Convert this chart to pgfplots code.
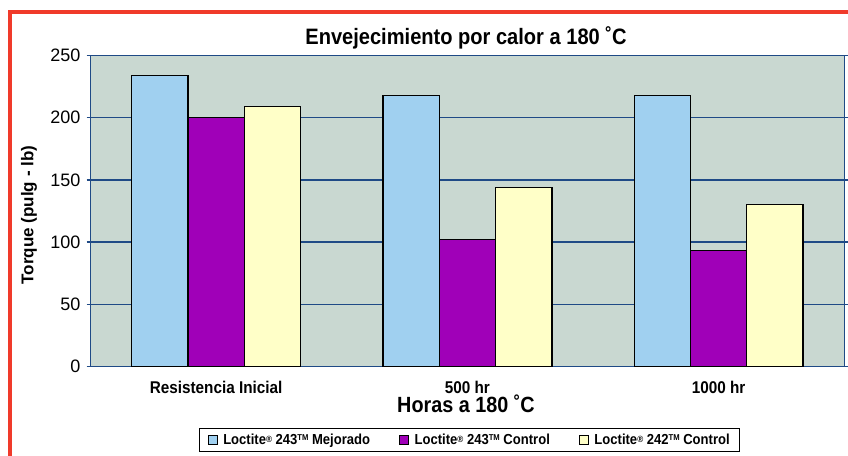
\documentclass[border=0pt]{standalone}
\usepackage{pgfplots}
\pgfplotsset{compat=1.18}
\usepackage{fontspec}
\setmainfont{Liberation Sans}
\newfontfamily\cond{Liberation Sans}[FakeStretch=0.9]
\definecolor{bgc}{HTML}{C9D8D1}
\definecolor{gridc}{HTML}{1F4A86}
\definecolor{cblue}{HTML}{A0D0F0}
\definecolor{cpurple}{HTML}{A000B8}
\definecolor{cyellow}{HTML}{FFFFC8}
\definecolor{cred}{HTML}{F03A2A}
\newcommand{\sreg}{\raisebox{0.3ex}{\fontsize{9}{9}\selectfont ®}}
\newcommand{\stm}{\raisebox{0.45ex}{\fontsize{8.5}{8.5}\selectfont TM}}
\begin{document}
\begin{tikzpicture}[x=1pt,y=1pt]
\path[use as bounding box, fill=white] (0pt,0pt) rectangle (848pt,455pt);
\draw[cred, line width=4pt] (10pt,-5pt) -- (10pt,443pt) -- (853pt,443pt);
\begin{axis}[
  at={(90.5pt,88.5pt)}, anchor=south west,
  scale only axis, width=753.8pt, height=311pt,
  xmin=-0.5, xmax=2.5, ymin=0, ymax=250,
  axis background/.style={fill=bgc},
  axis line style={gridc, line width=1.4pt},
  ybar=0pt, bar width=56.3pt,
  xtick={0,1,2},
  xticklabels={Resistencia Inicial,500 hr,1000 hr},
  x tick label style={font=\cond\bfseries\fontsize{17}{17}\selectfont, text height=12.3pt, text depth=0pt, inner sep=0pt, anchor=north, yshift=-10pt},
  major x tick style={draw=none},
  extra x ticks={0.5,1.5},
  extra x tick labels={},
  extra x tick style={major tick length=6pt, tick align=outside, tick style={black, line width=1.2pt}, grid=none},
  ytick={0,50,100,150,200,250},
  ymajorgrids, grid style={gridc, line width=1.4pt},
  y tick style={gridc, line width=1.4pt},
  major tick length=4pt, tick align=outside,
  yticklabel style={font=\fontsize{18}{18}\selectfont, inner sep=0pt, anchor=east, xshift=-6pt},
  /pgf/number format/assume math mode=true,
  legend columns=3,
  legend style={at={(rel axis cs:0.503,-0.236)}, anchor=center, draw=black, line width=1pt,
    font=\cond\bfseries\fontsize{14.5}{14.5}\selectfont, inner xsep=8pt, inner ysep=3.5pt,
    /tikz/every odd column/.append style={column sep=4pt},
    /tikz/every even column/.append style={column sep=27pt}},
  legend image code/.code={\draw[#1, draw=black, line width=0.6pt] (0pt,-4.5pt) rectangle (9pt,4.5pt);},
  clip=false,
]
\addplot[fill=cblue, draw=black, line width=1.3pt] coordinates {(0,234) (1,218) (2,218)};
\addplot[fill=cpurple, draw=black, line width=1.3pt] coordinates {(0,200) (1,102) (2,93)};
\addplot[fill=cyellow, draw=black, line width=1.3pt] coordinates {(0,209) (1,144) (2,130)};
\legend{Loctite\sreg{} 243\stm{} Mejorado, Loctite\sreg{} 243\stm{} Control, Loctite\sreg{} 242\stm{} Control}
\end{axis}
\node[anchor=base, font=\cond\bfseries\fontsize{22.3}{22.3}\selectfont, inner sep=0pt] at (466pt,410.7pt) {Envejecimiento por calor a 180 ˚C};
\node[anchor=base, font=\cond\bfseries\fontsize{22}{22}\selectfont, inner sep=0pt] at (466pt,42pt) {Horas a 180 ˚C};
\node[rotate=90, font=\bfseries\fontsize{17}{17}\selectfont, inner sep=0pt] at (29pt,240pt) {Torque (pulg - lb)};
\end{tikzpicture}
\end{document}
